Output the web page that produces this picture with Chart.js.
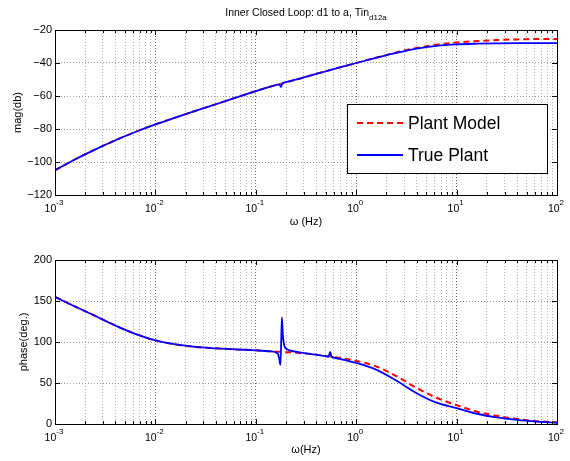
<!DOCTYPE html>
<html>
<head>
<meta charset="utf-8">
<script src="https://cdn.jsdelivr.net/npm/chart.js@4.4.1/dist/chart.umd.min.js"></script>
<style>
  body { margin: 0; background: #fff; }
  #wrap { position: relative; width: 570px; height: 461px; }
  canvas { position: absolute; left: 0; }
</style>
</head>
<body>
<div id="wrap">
  <canvas id="mag" width="570" height="240" style="top:0"></canvas>
  <canvas id="phase" width="570" height="221" style="top:240px"></canvas>
</div>
<script>
// frequency points (Hz)
const freqHz = [0.001, 0.0016, 0.0025, 0.004, 0.0063, 0.01, 0.016, 0.025, 0.04, 0.063,
  0.1, 0.14, 0.165, 0.171, 0.176, 0.179, 0.182, 0.186, 0.192, 0.2,
  0.25, 0.4, 0.5, 0.53, 0.55, 0.57, 0.62, 0.8, 1, 1.6,
  2.5, 4, 6.3, 10, 16, 25, 40, 63, 100];

// magnitude (dB)
const magModel = [-105, -98.3, -92.5, -86.8, -81.8, -77.2, -73, -69, -65, -61,
  -57, -54.3, -53.2, -53.0, -52.8, -52.7, -52.6, -52.4, -52.1, -51.8,
  -50.2, -46.6, -45, -44.6, -44.3, -44.0, -43.4, -41.6, -40, -36.7,
  -33.6, -30.9, -28.9, -27.6, -26.7, -26.1, -25.7, -25.5, -25.4];
const magTrue = [-105, -98.3, -92.5, -86.8, -81.8, -77.2, -73, -69, -65, -61,
  -57, -54.3, -53.1, -53.0, -54.0, -54.5, -53.0, -52.1, -51.8, -51.6,
  -50.1, -46.6, -45, -44.5, -44.3, -44, -43.4, -41.6, -40, -36.8,
  -33.9, -31.3, -29.6, -28.7, -28.3, -28.1, -28, -28, -28];

// phase (deg)
const phaseModel = [155, 143, 132, 120, 110, 102, 97, 94, 92.3, 91,
  89.8, 88.6, 88.2, 88.1, 88, 88, 87.9, 87.8, 87.7, 87.6,
  87, 84.5, 83, 82.6, 82.4, 82.2, 81.5, 79.3, 77, 70,
  58.5, 44, 32, 23, 15, 10, 6, 3.5, 2];
const phaseTrue = [155, 143, 132, 120, 110, 102, 97, 94, 92.3, 91,
  89.8, 88.6, 86, 80, 72, 100, 130, 108, 96, 92,
  88.3, 84.5, 82.5, 82, 88, 82, 80.5, 77.5, 74.5, 66,
  53, 37.5, 26, 19.5, 12.5, 8, 5, 3, 1.5];

// axis ticks
const decades = [-3, -2, -1, 0, 1, 2];
const magTicks = [-120, -100, -80, -60, -40, -20];
const phaseTicks = [0, 50, 100, 150, 200];

const FONT = '"Liberation Sans", Arial, Helvetica, sans-serif';
Chart.defaults.font.family = FONT;
Chart.defaults.color = '#000';

// 1..9 x 10^d for the log grid
const xTicks = [];
decades.forEach(d => {
  for (let s = 1; s < 10; s++) {
    if (d === decades[decades.length - 1] && s > 1) break;
    xTicks.push({ value: +(s * Math.pow(10, d)).toPrecision(3), major: s === 1 });
  }
});

// box, inward ticks and 10^n labels like matlab
const matlabAxes = {
  id: 'matlabAxes',
  afterDatasetsDraw(chart) {
    const { ctx, chartArea: a, scales: { x, y } } = chart;
    ctx.save();
    ctx.strokeStyle = '#000';
    ctx.lineWidth = 1;
    ctx.setLineDash([]);
    ctx.beginPath();
    x.ticks.forEach(t => {
      const px = Math.round(x.getPixelForValue(t.value)) + 0.5;
      const len = t.major ? 5 : 3;
      ctx.moveTo(px, a.bottom); ctx.lineTo(px, a.bottom - len);
      ctx.moveTo(px, a.top); ctx.lineTo(px, a.top + len);
    });
    y.ticks.forEach(t => {
      const py = Math.round(y.getPixelForValue(t.value)) + 0.5;
      ctx.moveTo(a.left, py); ctx.lineTo(a.left + 5, py);
      ctx.moveTo(a.right, py); ctx.lineTo(a.right - 5, py);
    });
    ctx.stroke();
    ctx.strokeRect(Math.round(a.left) + 0.5, Math.round(a.top) + 0.5,
      Math.round(a.right - a.left), Math.round(a.bottom - a.top));

    ctx.fillStyle = '#000';
    ctx.textBaseline = 'alphabetic';
    ctx.textAlign = 'left';
    x.ticks.filter(t => t.major).forEach(t => {
      const px = x.getPixelForValue(t.value);
      const ex = String(Math.round(Math.log10(t.value)));
      ctx.font = '10.5px ' + FONT;
      const w1 = ctx.measureText('10').width;
      ctx.font = '8px ' + FONT;
      const w2 = ctx.measureText(ex).width;
      const x0 = px - (w1 + w2) / 2 - 1;
      ctx.font = '10.5px ' + FONT;
      ctx.fillText('10', x0, a.bottom + 17);
      ctx.font = '8px ' + FONT;
      ctx.fillText(ex, x0 + w1, a.bottom + 10);
    });
    ctx.restore();
  }
};

// title with subscript + boxed legend inside the plot
const magExtras = {
  id: 'magExtras',
  afterDraw(chart) {
    const { ctx, chartArea: a } = chart;
    ctx.save();
    const main = 'Inner Closed Loop: d1 to a, Tin';
    const sub = 'd12a';
    ctx.font = '10.5px ' + FONT;
    const w1 = ctx.measureText(main).width;
    ctx.font = '8px ' + FONT;
    const w2 = ctx.measureText(sub).width;
    const cx = (a.left + a.right) / 2;
    const x0 = cx - (w1 + w2) / 2;
    ctx.fillStyle = '#000';
    ctx.textBaseline = 'alphabetic';
    ctx.font = '10.5px ' + FONT;
    ctx.fillText(main, x0, 16);
    ctx.font = '8px ' + FONT;
    ctx.fillText(sub, x0 + w1, 20);

    // legend
    const bx = 347, by = 104, bw = 200, bh = 69;
    ctx.fillStyle = '#fff';
    ctx.fillRect(bx, by, bw, bh);
    ctx.strokeStyle = '#000';
    ctx.lineWidth = 1;
    ctx.strokeRect(bx + 0.5, by + 0.5, bw, bh);
    const items = [chart.data.datasets[1], chart.data.datasets[0]];
    items.forEach((ds, i) => {
      const ly = by + 19 + i * 32;
      ctx.strokeStyle = ds.borderColor;
      ctx.lineWidth = ds.borderWidth;
      ctx.setLineDash(ds.borderDash || []);
      ctx.beginPath();
      ctx.moveTo(bx + 10, ly);
      ctx.lineTo(bx + 56, ly);
      ctx.stroke();
      ctx.setLineDash([]);
      ctx.fillStyle = '#000';
      ctx.font = '17.5px ' + FONT;
      ctx.textBaseline = 'middle';
      ctx.fillText(ds.label, bx + 61, ly + 1);
    });
    ctx.restore();
  }
};

function points(ys) {
  return freqHz.map((f, i) => ({ x: f, y: ys[i] }));
}

function makeChart(id, trueVals, modelVals, yTicks, yTitle, yTitlePad, xTitle, xTitlePad, pad, xHeight, extra) {
  const plugins = [matlabAxes];
  if (extra) plugins.push(extra);
  return new Chart(document.getElementById(id), {
    type: 'line',
    data: {
      datasets: [
        { label: 'True Plant', data: points(trueVals), borderColor: '#0000ff', borderWidth: 1.8,
          pointRadius: 0, cubicInterpolationMode: 'monotone', fill: false },
        { label: 'Plant Model', data: points(modelVals), borderColor: '#ff0000', borderWidth: 2,
          borderDash: [6, 4], pointRadius: 0, cubicInterpolationMode: 'monotone', fill: false }
      ]
    },
    options: {
      responsive: false,
      animation: false,
      events: [],
      layout: { padding: pad },
      plugins: { legend: { display: false }, tooltip: { enabled: false } },
      scales: {
        x: {
          type: 'logarithmic',
          min: 0.001,
          max: 100,
          afterBuildTicks: s => { s.ticks = xTicks.map(t => ({ value: t.value, major: t.major })); },
          afterFit: s => { s.height = xHeight; },
          ticks: { display: false },
          grid: {
            drawTicks: false,
            color: ctx => (ctx.tick && ctx.tick.major) ? '#666' : '#b0b0b0',
            lineWidth: 1
          },
          border: { display: false, dash: [1, 2] },
          title: { display: true, text: xTitle, font: { size: 11 }, padding: { top: 0, bottom: xTitlePad } }
        },
        y: {
          min: yTicks[0],
          max: yTicks[yTicks.length - 1],
          afterBuildTicks: s => { s.ticks = yTicks.map(v => ({ value: v })); },
          afterFit: s => { s.width = 55; },
          ticks: {
            font: { size: 11 },
            padding: 3,
            callback: v => String(v).replace('-', '\u2212')
          },
          grid: { drawTicks: false, color: '#999', lineWidth: 1 },
          border: { display: false, dash: [1, 2] },
          title: { display: true, text: yTitle, font: { size: 11 }, padding: { top: yTitlePad, bottom: 0 } }
        }
      }
    },
    plugins: plugins
  });
}

makeChart('mag', magTrue, magModel, magTicks, 'mag(db)', 11, '\u03c9 (Hz)', 11.4,
  { top: 30, right: 13, left: 0, bottom: 0 }, 45, magExtras);
makeChart('phase', phaseTrue, phaseModel, phaseTicks, 'phase(deg.)', 17, '\u03c9(Hz)', 4.4,
  { top: 20, right: 13, left: 0, bottom: 0 }, 37, null);
</script>
</body>
</html>
